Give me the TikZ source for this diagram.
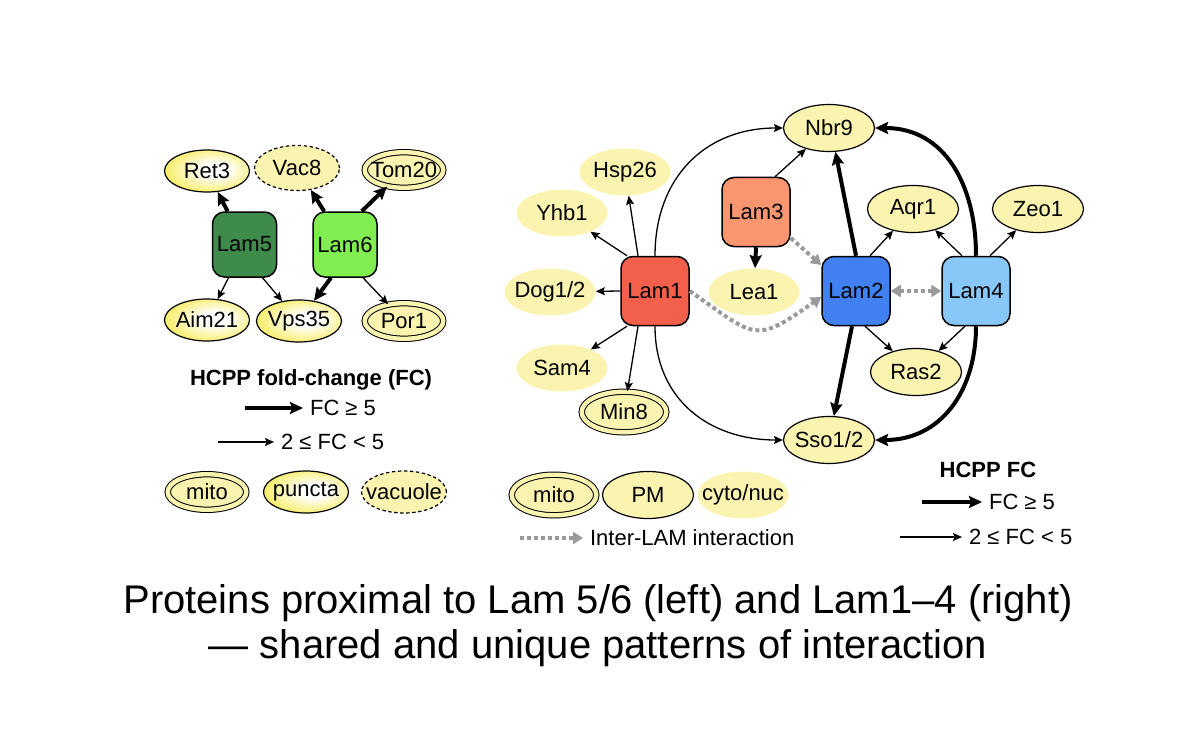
\documentclass[tikz,border=0pt]{standalone}
\usepackage{fontspec}
\setmainfont{Liberation Sans}
\usetikzlibrary{shapes.geometric,arrows.meta}
\definecolor{pale}{HTML}{FBF4B0}
\definecolor{yel}{HTML}{F3E41A}
\definecolor{cLamV}{HTML}{3F8B4B}
\definecolor{cLamVI}{HTML}{80EE50}
\definecolor{cLamI}{HTML}{F2604C}
\definecolor{cLamIII}{HTML}{F9966F}
\definecolor{cLamII}{HTML}{4080F0}
\definecolor{cLamIV}{HTML}{88C8F8}
\definecolor{dgray}{HTML}{9A9A9A}
\pgfdeclareradialshading{ybulb}{\pgfpoint{6bp}{2bp}}{color(0bp)=(white); color(8bp)=(white); color(38bp)=(yel); color(50bp)=(yel)}
\tikzset{
  lab/.style={font=\fontsize{11}{13}\selectfont},
  lam/.style={lab, draw=black, line width=0.75pt, rounded corners=6pt, inner sep=0pt, minimum width=32pt, minimum height=32.5pt},
  lamR/.style={lam, minimum width=34pt, minimum height=34.5pt},
  prot/.style={lab, ellipse, inner xsep=-8pt, inner ysep=0pt, minimum width=42.5pt, minimum height=21pt},
  protR/.style={prot, minimum width=45.5pt, minimum height=23.5pt},
  bord/.style={draw=black, line width=0.6pt, fill=pale},
  cyto/.style={fill=pale},
  dbl/.style={draw=black, line width=0.5pt, double=pale, double distance=2.2pt, fill=pale},
  dblL/.style={prot, dbl, minimum width=39.3pt, minimum height=17.8pt},
  dblR/.style={protR, dbl, minimum width=42.3pt, minimum height=20.3pt},
  grad/.style={draw=black, line width=0.6pt, shading=ybulb},
  vac/.style={draw=black, line width=0.6pt, fill=pale, dash pattern=on 1.7pt off 1.3pt},
  thin/.style={line width=0.65pt, -{Stealth[length=4.5pt,width=4pt,inset=0.8pt]}},
  thick/.style={line width=2pt, -{Stealth[length=6.5pt,width=6pt,inset=1pt]}},
  inter/.style={line width=2pt, dgray, dash pattern=on 2pt off 1.5pt, -{Triangle[length=5pt,width=6pt]}},
  interb/.style={line width=2pt, dgray, dash pattern=on 2pt off 1.5pt, {Triangle[length=5pt,width=6pt]}-{Triangle[length=5pt,width=6pt]}},
  capt/.style={font=\fontsize{20}{24}\selectfont, anchor=base},
}
\begin{document}
\begin{tikzpicture}[x=0.5pt,y=-0.5pt]
\useasboundingbox (0,0) rectangle (1200,733);
% ---------- left panel ----------
\node[lam, fill=cLamV] (L5) at (244.5,244.5) {Lam5};
\node[lam, fill=cLamVI] (L6) at (345,244.5) {Lam6};
\node[prot, grad] (Ret3) at (207,171) {Ret3};
\node[prot, vac, minimum height=22.5pt] (Vac8) at (297,168) {Vac8};
\node[dblL] (Tom20) at (404,170) {Tom20};
\node[prot, grad] (Aim21) at (207,320) {Aim21};
\node[prot, grad] (Vps35) at (299,321) {Vps35};
\node[dblL] (Por1) at (404,321) {Por1};
\draw[thick] (L5) -- (Ret3);
\draw[thick] (L6) -- (Vac8);
\draw[thick] ([xshift=-8pt]L6.north east) -- (Tom20);
\draw[thin] ([xshift=-8pt]L5.south) -- (Aim21);
\draw[thin] ([xshift=9pt]L5.south) -- (Vps35);
\draw[thick] ([xshift=-7pt]L6.south) -- (Vps35);
\draw[thin] ([xshift=9pt]L6.south) -- (Por1);
% left legend
\node[lab, font=\fontsize{11}{13}\selectfont\bfseries] (ttlL) at (311,380) {HCPP fold-change (FC)};
\coordinate (lkA) at (245,408);
\node[lab, anchor=west] (lkT) at (303,408) {FC ≥ 5};
\draw[thick] (lkA) -- (lkT.west);
\coordinate (lnA) at (218,442);
\node[lab, anchor=west] (lnT) at (274,442) {2 ≤ FC < 5};
\draw[thin] (lnA) -- (lnT.west);
\node[dblL] (mitoL) at (207,492) {mito};
\node[prot, grad] (punc) at (306,492) {puncta};
\node[prot, vac] (vacu) at (404,492) {vacuole};
% ---------- right panel ----------
\node[lamR, fill=cLamI] (L1) at (655,291) {Lam1};
\node[lamR, fill=cLamIII] (L3) at (756,212) {Lam3};
\node[lamR, fill=cLamII] (L2) at (856,291) {Lam2};
\node[lamR, fill=cLamIV] (L4) at (976,291) {Lam4};
\node[protR, bord] (Nbr9) at (829,128) {Nbr9};
\node[protR, cyto] (Hsp26) at (625,172) {Hsp26};
\node[protR, cyto] (Yhb1) at (562,213) {Yhb1};
\node[protR, cyto] (Dog) at (550,292) {Dog1/2};
\node[protR, cyto] (Lea1) at (754,292) {Lea1};
\node[protR, cyto] (Sam4) at (562,368) {Sam4};
\node[dblR] (Min8) at (624,412) {Min8};
\node[protR, bord] (Aqr1) at (913,209) {Aqr1};
\node[protR, bord] (Zeo1) at (1038,209) {Zeo1};
\node[protR, bord] (Ras2) at (916,372) {Ras2};
\node[protR, bord] (Sso) at (829,440) {Sso1/2};
% Lam1 edges
\draw[thin] ([xshift=-8.5pt]L1.north) -- (Hsp26);
\draw[thin] ([xshift=-14pt]L1.north) -- (Yhb1);
\draw[thin] (L1.west) -- (Dog);
\draw[thin] ([xshift=-14pt]L1.south) -- (Sam4);
\draw[thin] ([xshift=-8.5pt]L1.south) -- (Min8);
\draw[thin] (L1.north) to[out=90,in=180,looseness=1.1] (Nbr9.west);
\draw[thin] (L1.south) to[out=-90,in=180,looseness=1.1] (Sso.west);
% Lam3 edges
\draw[thin] ([xshift=9.5pt]L3.north) -- (Nbr9);
\draw[thick] (L3.south) -- (Lea1);
\draw[inter] ([yshift=-13pt]L3.east) -- ([yshift=13pt]L2.west);
\draw[inter] (L1.east) to[out=-35,in=-145,looseness=1.6] ([yshift=-3pt]L2.west);
% Lam2 edges
\draw[thick] (L2.north) -- (Nbr9.-75);
\draw[thin] ([xshift=7pt]L2.north) -- (Aqr1);
\draw[thick] ([xshift=-2pt]L2.south) -- (Sso);
\draw[thin] ([xshift=4.5pt]L2.south) -- (Ras2);
\draw[interb] (L2.east) -- (L4.west);
% Lam4 edges
\draw[thin] ([xshift=-7pt]L4.north) -- (Aqr1);
\draw[thin] ([xshift=7pt]L4.north) -- (Zeo1);
\draw[thin] ([xshift=-5.5pt]L4.south) -- (Ras2);
\draw[thick] (L4.north) to[out=90,in=0,looseness=1.1] (Nbr9.east);
\draw[thick] (L4.south) to[out=-90,in=0,looseness=1.1] (Sso.east);
% right legend
\node[dblR] (mitoR) at (554,495) {mito};
\node[protR, bord] (PM) at (648,495) {PM};
\node[protR, cyto] (cyt) at (743,495) {cyto/nuc};
\coordinate (ilA) at (520,538);
\node[lab, anchor=west] (ilT) at (583,538) {Inter-LAM interaction};
\draw[inter] (ilA) -- (ilT.west);
\node[lab, font=\fontsize{11}{13}\selectfont\bfseries] (ttlR) at (988,470) {HCPP FC};
\coordinate (rkA) at (922,502);
\node[lab, anchor=west] (rkT) at (982,502) {FC ≥ 5};
\draw[thick] (rkA) -- (rkT.west);
\coordinate (rnA) at (900,537);
\node[lab, anchor=west] (rnT) at (962,537) {2 ≤ FC < 5};
\draw[thin] (rnA) -- (rnT.west);
% caption
\node[capt] (cap1) at (598,613) {Proteins proximal to Lam 5/6 (left) and Lam1–4 (right)};
\node[capt] (cap2) at (598,658) {— shared and unique patterns of interaction};
\end{tikzpicture}
\end{document}
